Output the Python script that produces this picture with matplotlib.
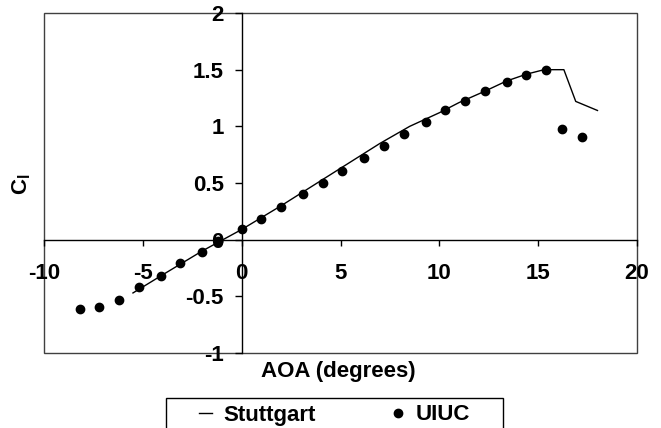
import matplotlib
matplotlib.use("Agg")
import matplotlib.pyplot as plt
from matplotlib.patches import Rectangle

plt.rcParams['font.family'] = 'Liberation Sans'
plt.rcParams['font.weight'] = 'bold'
plt.rcParams['axes.unicode_minus'] = False
plt.rcParams['mathtext.fontset'] = 'custom'
plt.rcParams['mathtext.rm'] = 'Liberation Sans:bold'
plt.rcParams['mathtext.it'] = 'Liberation Sans:bold'
plt.rcParams['mathtext.bf'] = 'Liberation Sans:bold'

# Stuttgart prediction (solid line)
stut_aoa = [-5.5, -4.0, -2.0, 0.0, 2.0, 4.0, 6.0, 7.0, 8.5, 10.0, 11.0,
            12.3, 13.4, 14.4, 15.3, 16.3, 16.9, 18.0]
stut_cl = [-0.47, -0.31, -0.10, 0.09, 0.30, 0.52, 0.74, 0.85, 1.00, 1.12, 1.21,
           1.31, 1.40, 1.46, 1.50, 1.50, 1.22, 1.14]

# UIUC wind tunnel measurements (dots)
uiuc_aoa = [-8.2, -7.2, -6.2, -5.2, -4.1, -3.1, -2.0, -1.2, 0.0, 1.0, 2.0, 3.1, 4.1,
            5.1, 6.2, 7.2, 8.2, 9.3, 10.3, 11.3, 12.3, 13.4, 14.4, 15.4, 16.2, 17.2]
uiuc_cl = [-0.61, -0.59, -0.53, -0.42, -0.32, -0.21, -0.11, -0.01, 0.09, 0.18, 0.29,
           0.40, 0.50, 0.61, 0.72, 0.83, 0.93, 1.04, 1.14, 1.22, 1.31, 1.39, 1.45,
           1.50, 0.98, 0.91]

x_ticks = [-10, -5, 0, 5, 10, 15, 20]
x_labels = ["-10", "-5", "0", "5", "10", "15", "20"]
y_ticks = [-1, -0.5, 0, 0.5, 1, 1.5, 2]
y_labels = ["-1", "-0.5", "0", "0.5", "1", "1.5", "2"]

fs = 16

fig = plt.figure(figsize=(6.61, 4.28), dpi=100)
ax = fig.add_axes([0.0666, 0.1752, 0.8971, 0.7944])

ax.plot(stut_aoa, stut_cl, color="black", lw=1, label="Stuttgart")
ax.plot(uiuc_aoa, uiuc_cl, "o", color="black", ms=6, ls="none", label="UIUC")

ax.set_xlim(-10, 20)
ax.set_ylim(-1, 2)
ax.set_xticks(x_ticks)
ax.set_xticklabels(x_labels)
ax.set_yticks(y_ticks)
ax.set_yticklabels(y_labels)

# axes cross at zero, Excel style
ax.spines["left"].set_position(("data", 0))
ax.spines["bottom"].set_position(("data", 0))
ax.spines["top"].set_visible(False)
ax.spines["right"].set_visible(False)
for s in ("left", "bottom"):
    ax.spines[s].set_linewidth(1)
    ax.spines[s].set_color("black")

ax.tick_params(axis="x", direction="out", length=4, width=1, pad=13, labelsize=fs)
ax.tick_params(axis="y", direction="out", length=5, width=1, pad=8, labelsize=fs)

# plot area border
ax.add_patch(Rectangle((0, 0), 1, 1, transform=ax.transAxes, fill=False,
                       edgecolor="#404040", lw=1, clip_on=False))

fig.text(338 / 661, 1 - 372 / 428, "AOA (degrees)", ha="center", va="center",
         fontsize=fs, fontweight="bold")
fig.text(22 / 661, 1 - 184 / 428, r"$\mathbf{C_l}$", rotation=90, ha="center",
         va="center", fontsize=fs)

fig.legend(loc="center", bbox_to_anchor=(334.5 / 661, 1 - 415 / 428), ncol=2,
           frameon=False, handlelength=0.59, handletextpad=0.5, columnspacing=3.4,
           fontsize=fs)
fig.add_artist(Rectangle((166 / 661, -0.1), (503 - 166) / 661, 0.1 + (1 - 398 / 428),
                         transform=fig.transFigure, fill=False, edgecolor="black",
                         lw=1, clip_on=False))

fig.savefig("out.png", dpi=100)
